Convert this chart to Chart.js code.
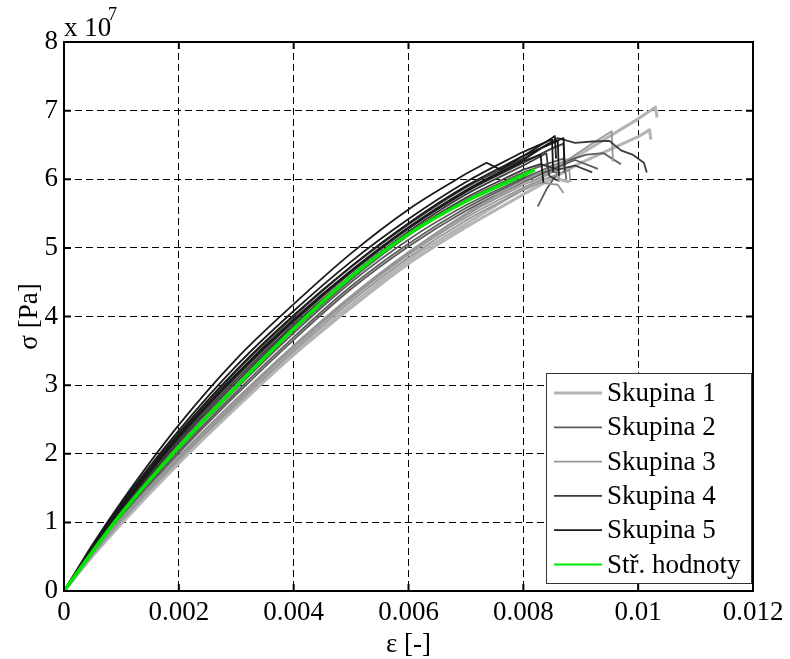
<!DOCTYPE html>
<html>
<head>
<meta charset="utf-8">
<script src="https://cdn.jsdelivr.net/npm/chart.js@4.4.1/dist/chart.umd.min.js"></script>
<style>
  html, body { margin: 0; padding: 0; background: #fff; }
  canvas { display: block; }
</style>
</head>
<body>
<canvas id="chart" width="790" height="659"></canvas>
<script>
// strain [-] shared by every specimen (grid part of the curves)
const strainGrid = [0, 0.0005, 0.001, 0.002, 0.003, 0.004, 0.005, 0.006, 0.007, 0.008];

// stress in 10^7 Pa read at strainGrid, one row per specimen
const skupina1Stress = [
    [0, 0.52, 1.00, 1.88, 2.70, 3.47, 4.17, 4.82, 5.35, 5.86],
    [0, 0.51, 0.98, 1.86, 2.67, 3.44, 4.13, 4.77, 5.30, 5.78],
    [0, 0.53, 1.02, 1.92, 2.76, 3.54, 4.26, 4.92, 5.48, 5.96]
];
const skupina2Stress = [
    [0, 0.58, 1.12, 2.08, 2.95, 3.76, 4.50, 5.12, 5.62, 6.02],
    [0, 0.57, 1.10, 2.04, 2.90, 3.70, 4.44, 5.06, 5.58, 6.00],
    [0, 0.56, 1.08, 2.01, 2.86, 3.66, 4.40, 5.02, 5.54, 5.96],
    [0, 0.59, 1.14, 2.12, 3.00, 3.80, 4.54, 5.18, 5.70, 6.10]
];
const skupina3Stress = [
    [0, 0.55, 1.06, 1.97, 2.80, 3.58, 4.30, 4.94, 5.48, 5.92],
    [0, 0.54, 1.04, 1.94, 2.76, 3.55, 4.27, 4.90, 5.44, 5.88],
    [0, 0.55, 1.05, 1.96, 2.78, 3.56, 4.28, 4.93, 5.50, 5.98],
    [0, 0.53, 1.02, 1.91, 2.72, 3.50, 4.22, 4.86, 5.40, 5.84]
];
const skupina4Stress = [
    [0, 0.64, 1.23, 2.28, 3.20, 4.00, 4.72, 5.34, 5.88, 6.30],
    [0, 0.62, 1.20, 2.22, 3.12, 3.92, 4.64, 5.28, 5.82, 6.24],
    [0, 0.61, 1.18, 2.19, 3.08, 3.88, 4.60, 5.24, 5.78, 6.20],
    [0, 0.60, 1.16, 2.16, 3.04, 3.85, 4.58, 5.21, 5.73, 6.14]
];
const skupina5Stress = [
    [0, 0.68, 1.30, 2.42, 3.38, 4.18, 4.92, 5.56, 6.08],
    [0, 0.66, 1.27, 2.34, 3.28, 4.08, 4.80, 5.42, 5.96, 6.40],
    [0, 0.64, 1.24, 2.30, 3.22, 4.02, 4.73, 5.36, 5.90, 6.34],
    [0, 0.63, 1.22, 2.26, 3.16, 3.96, 4.67, 5.30, 5.84, 6.28],
    [0, 0.62, 1.20, 2.24, 3.14, 3.94, 4.66, 5.29, 5.82, 6.26]
];

// end of each curve past the grid: [strain, stress 10^7 Pa]
const skupina1Tail = [
    [[0.009, 6.37], [0.010, 6.88], [0.0103, 7.05], [0.01033, 6.90]],
    [[0.009, 6.24], [0.010, 6.62], [0.0102, 6.72], [0.01022, 6.58]],
    [[0.0086, 6.20], [0.00862, 6.00], [0.0088, 5.96]]
];
const skupina2Tail = [
    [[0.0083, 6.12], [0.0086, 6.10], [0.0084, 5.85], [0.00825, 5.60]],
    [[0.0085, 6.20], [0.0088, 6.28], [0.0091, 6.36], [0.0094, 6.38], [0.0097, 6.22]],
    [[0.0086, 6.18], [0.0089, 6.28], [0.0093, 6.15]],
    [[0.0084, 6.22], [0.0087, 6.30], [0.00875, 6.00]]
];
const skupina3Tail = [
    [[0.0086, 6.14], [0.00862, 5.96]],
    [[0.0088, 6.14], [0.00882, 5.96]],
    [[0.0088, 6.30], [0.0092, 6.52], [0.00954, 6.70], [0.00956, 6.26]],
    [[0.0083, 5.95], [0.0086, 5.92], [0.0087, 5.80]]
];
const skupina4Tail = [
    [[0.0086, 6.60], [0.0089, 6.53], [0.0092, 6.55], [0.0095, 6.56], [0.0097, 6.42], [0.0099, 6.36], [0.0101, 6.24], [0.01015, 6.10]],
    [[0.0085, 6.45], [0.0087, 6.52], [0.00872, 6.10]],
    [[0.0084, 6.38], [0.00845, 6.05], [0.0086, 5.98]],
    [[0.0083, 6.22], [0.0086, 6.14], [0.0089, 6.20], [0.0092, 6.10]]
];
const skupina5Tail = [
    [[0.00736, 6.24], [0.0076, 6.14], [0.008, 6.34], [0.0085, 6.60], [0.00855, 6.63], [0.00857, 6.30]],
    [[0.0085, 6.58], [0.00852, 6.10]],
    [[0.0086, 6.56], [0.00862, 6.05]],
    [[0.0084, 6.50], [0.0087, 6.60], [0.00872, 6.20]],
    [[0.0083, 6.36], [0.00835, 5.95]]
];

// mean curve
const meanStress = [0, 0.58, 1.13, 2.10, 2.98, 3.82, 4.58, 5.20, 5.68, 6.06];
const meanTail = [[0.0082, 6.14]];

const groupNames = ["Skupina 1", "Skupina 2", "Skupina 3", "Skupina 4", "Skupina 5"];
const meanName = "Stř. hodnoty";

const xTicks = [0, 0.002, 0.004, 0.006, 0.008, 0.010, 0.012];
const xTickLabels = ["0", "0.002", "0.004", "0.006", "0.008", "0.01", "0.012"];
const yTicks = [0, 1, 2, 3, 4, 5, 6, 7, 8];
const yTickLabels = ["0", "1", "2", "3", "4", "5", "6", "7", "8"];

// styles
const groupColors = ["#b4b4b4", "#5c5c5c", "#979797", "#3a3a3a", "#1a1a1a"];
const groupWidths = [3, 1.8, 1.8, 1.8, 1.8];
const meanColor = "#00e600";
const FONT = "'Liberation Serif', 'Times New Roman', serif";

// smooth body over the strain grid + broken-off tail drawn straight
function addSpecimen(list, label, stress, tail, style) {
    const body = stress.map((s, i) => ({ x: strainGrid[i], y: s }));
    const end = [body[body.length - 1]].concat(tail.map(p => ({ x: p[0], y: p[1] })));
    list.push(Object.assign({ label, data: body, cubicInterpolationMode: "monotone" }, style));
    list.push(Object.assign({ label, data: end, tension: 0 }, style));
}

const groups = [
    [skupina1Stress, skupina1Tail],
    [skupina2Stress, skupina2Tail],
    [skupina3Stress, skupina3Tail],
    [skupina4Stress, skupina4Tail],
    [skupina5Stress, skupina5Tail]
];

const datasets = [];
const legendItems = [];
groups.forEach(([stressRows, tails], g) => {
    const style = { borderColor: groupColors[g], borderWidth: groupWidths[g], order: 5 - g };
    stressRows.forEach((row, k) => addSpecimen(datasets, groupNames[g], row, tails[k], style));
    legendItems.push({ text: groupNames[g], color: groupColors[g], width: groupWidths[g] });
});
addSpecimen(datasets, meanName, meanStress, meanTail, { borderColor: meanColor, borderWidth: 3.5, order: 0 });
legendItems.push({ text: meanName, color: meanColor, width: 2 });

// inner tick marks, box frame, exponent label and legend box
const matlabFrame = {
    id: "matlabFrame",
    afterDraw(chart) {
        const { ctx, chartArea: a, scales: { x, y } } = chart;
        ctx.save();
        ctx.strokeStyle = "#000";
        ctx.lineWidth = 2;
        ctx.beginPath();
        xTicks.forEach(v => {
            const px = x.getPixelForValue(v);
            ctx.moveTo(px, a.bottom); ctx.lineTo(px, a.bottom - 7);
            ctx.moveTo(px, a.top); ctx.lineTo(px, a.top + 7);
        });
        yTicks.forEach(v => {
            const py = y.getPixelForValue(v);
            ctx.moveTo(a.left, py); ctx.lineTo(a.left + 7, py);
            ctx.moveTo(a.right, py); ctx.lineTo(a.right - 7, py);
        });
        ctx.stroke();
        ctx.strokeRect(a.left, a.top, a.right - a.left, a.bottom - a.top);

        ctx.fillStyle = "#000";
        ctx.textBaseline = "alphabetic";
        ctx.font = "27px " + FONT;
        ctx.fillText("x 10", a.left, a.top - 6);
        ctx.font = "18px " + FONT;
        ctx.fillText("7", a.left + 44, a.top - 22);

        const w = 205, h = 210;
        const lx = a.right - 2 - w, ly = a.bottom - 8 - h;
        ctx.fillStyle = "#fff";
        ctx.fillRect(lx, ly, w, h);
        ctx.lineWidth = 1;
        ctx.strokeStyle = "#333";
        ctx.strokeRect(lx + 0.5, ly + 0.5, w, h);
        ctx.font = "27px " + FONT;
        ctx.textBaseline = "middle";
        legendItems.forEach((it, i) => {
            const cy = ly + 20 + i * 34.3;
            ctx.strokeStyle = it.color;
            ctx.lineWidth = it.width;
            ctx.beginPath();
            ctx.moveTo(lx + 8, cy);
            ctx.lineTo(lx + 56, cy);
            ctx.stroke();
            ctx.fillStyle = "#000";
            ctx.fillText(it.text, lx + 61, cy + 1);
        });
        ctx.restore();
    }
};

Chart.defaults.font.family = FONT;
Chart.defaults.font.size = 27;
Chart.defaults.color = "#000";

new Chart(document.getElementById("chart"), {
    type: "line",
    data: { datasets },
    plugins: [matlabFrame],
    options: {
        responsive: false,
        animation: false,
        layout: { padding: { top: 42, right: 37, left: 0, bottom: 0 } },
        elements: {
            point: { radius: 0 },
            line: { borderJoinStyle: "round", fill: false }
        },
        plugins: {
            legend: { display: false },
            tooltip: { enabled: false }
        },
        scales: {
            x: {
                type: "linear",
                min: 0,
                max: 0.012,
                afterBuildTicks: scale => { scale.ticks = xTicks.map(v => ({ value: v })); },
                afterFit: scale => { scale.height = 68; },
                ticks: {
                    padding: 6,
                    maxRotation: 0,
                    callback: (v, i) => xTickLabels[i]
                },
                grid: { color: "#000", lineWidth: 1, drawTicks: false },
                border: { display: false, dash: [7, 4] },
                title: { display: true, text: "ε [-]", padding: { top: 0, bottom: -2 } }
            },
            y: {
                type: "linear",
                min: 0,
                max: 8,
                afterBuildTicks: scale => { scale.ticks = yTicks.map(v => ({ value: v })); },
                afterFit: scale => { scale.width = 64; },
                ticks: {
                    padding: 6,
                    callback: (v, i) => yTickLabels[i]
                },
                grid: { color: "#000", lineWidth: 1, drawTicks: false },
                border: { display: false, dash: [7, 4] },
                title: { display: true, text: "σ [Pa]", padding: { top: 14, bottom: 0 } }
            }
        }
    }
});
</script>
</body>
</html>
